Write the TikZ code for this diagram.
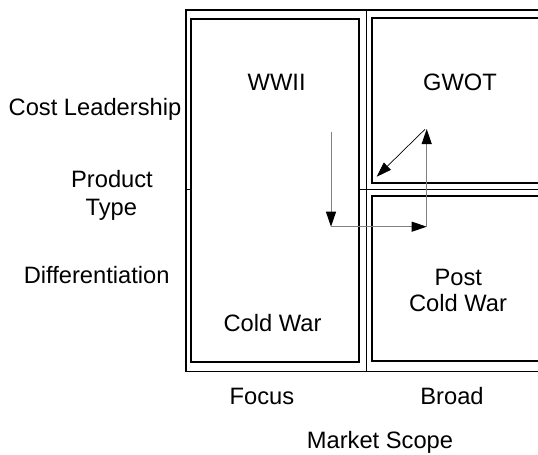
\documentclass[tikz,border=0pt]{standalone}
\usepackage{fontspec}
\setmainfont{Liberation Sans}
\usetikzlibrary{arrows.meta}
\begin{document}
\begin{tikzpicture}[x=1pt,y=-1pt,
 frame/.style={draw=black,line width=1.8pt,fill=white,rectangle,inner sep=0pt},
 divider/.style={draw=black,line width=1.4pt},
 lbl/.style={font=\fontsize{23.7}{27.5}\selectfont,inner sep=0pt,anchor=base},
 flow/.style={draw=gray,line width=1pt,-{Triangle[length=15pt,width=10pt,black]}},
 diag/.style={draw=black,line width=0.7pt,-{Triangle[length=15pt,width=10pt]}}]
\useasboundingbox (0,0) rectangle (538,455);
\begin{scope}
\clip (0,0) rectangle (538,455);
\node[frame,minimum width=374pt,minimum height=361.5pt] (outer) at (373,190.75) {};
\draw[divider] (outer.west |- 0,189.3) -- (outer.east |- 0,189.3);
\draw[divider] (366.7,10) -- (366.7,371.5);
\node[frame,minimum width=168.3pt,minimum height=343.3pt] (leftbox) at (275.15,190.65) {};
\node[frame,minimum width=188.3pt,minimum height=165.3pt] (gwotbox) at (465.85,100.35) {};
\node[frame,minimum width=188.3pt,minimum height=165pt] (postbox) at (465.85,278.5) {};
\end{scope}
\node[lbl] (wwii) at (276.7,90.7) {WWII};
\node[lbl] (gwot) at (460,90.7) {GWOT};
\node[lbl] (coldwar) at (272.5,331.7) {Cold War};
\node[lbl] (post1) at (458.3,285) {Post};
\node[lbl] (post2) at (458,311.7) {Cold War};
\node[lbl] (cost) at (95,115) {Cost Leadership};
\node[lbl] (product) at (112,187.3) {Product};
\node[lbl] (type) at (111.3,215) {Type};
\node[lbl] (diff) at (96.7,283.3) {Differentiation};
\node[lbl] (focus) at (262,404) {Focus};
\node[lbl] (broad) at (452,404) {Broad};
\node[lbl] (scope) at (380,448) {Market Scope};
\coordinate (a1) at (331,131.7);
\coordinate (a2) at (331,226.7);
\coordinate (a3) at (426.7,226.7);
\coordinate (a4) at (426.7,129);
\coordinate (d1) at (425,129.3);
\coordinate (d2) at (376.7,176.7);
\draw[flow] (a1) -- (a2);
\draw[flow] (a2) -- (a3);
\draw[flow] (a3) -- (a4);
\draw[diag] (d1) -- (d2);
\end{tikzpicture}
\end{document}
